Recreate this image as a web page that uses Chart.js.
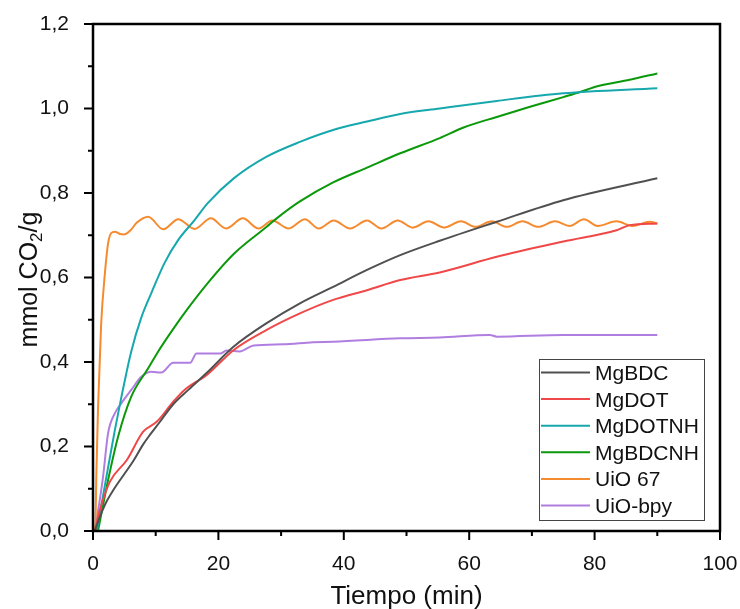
<!DOCTYPE html>
<html>
<head>
<meta charset="utf-8">
<script src="https://cdn.jsdelivr.net/npm/chart.js@4.4.1/dist/chart.umd.min.js"></script>
<style>
  body { margin: 0; background: #fff; }
  canvas { display: block; }
</style>
</head>
<body>
<canvas id="myChart" width="740" height="609"></canvas>
<script>
// Series: time in min, uptake in mmol CO2/g
const mgbdcT = [0.3, 1, 2, 3.25, 5, 6.4, 8, 9.1, 10.5, 12.8, 15.2, 18.2, 22.4, 27.7, 33, 38.3, 43.7, 49, 55.3, 64.4, 75, 90];
const mgbdcV = [0, 0.03, 0.065, 0.097, 0.135, 0.165, 0.205, 0.228, 0.255, 0.3, 0.334, 0.375, 0.436, 0.492, 0.539, 0.578, 0.618, 0.653, 0.687, 0.732, 0.783, 0.835];

const mgdotT = [0.3, 1.1, 2.7, 5.4, 8, 10.2, 12.8, 14.6, 18.2, 22.4, 27.7, 33, 38.3, 43.7, 49, 55.3, 64.4, 75, 83.5, 85.6, 90];
const mgdotV = [0, 0.05, 0.117, 0.168, 0.235, 0.259, 0.306, 0.334, 0.37, 0.428, 0.476, 0.515, 0.547, 0.57, 0.594, 0.612, 0.649, 0.685, 0.712, 0.724, 0.728];

const mgdotnhT = [0.6, 2.4, 3.5, 4.5, 6.1, 7.7, 9.3, 11.4, 13.6, 16.2, 18.3, 22.4, 27.7, 33, 38.3, 43.7, 49, 55.3, 64.4, 75, 90];
const mgdotnhV = [0, 0.15, 0.24, 0.315, 0.425, 0.505, 0.563, 0.634, 0.689, 0.736, 0.776, 0.834, 0.886, 0.921, 0.949, 0.969, 0.987, 1.0, 1.018, 1.036, 1.048];

const mgbdcnhT = [0.8, 2.4, 4, 6.1, 8.8, 10.4, 12.5, 15.2, 18.2, 22.4, 27.7, 29.3, 33, 38.3, 43.7, 49, 55.3, 59.1, 64.4, 69.7, 75, 77.7, 80.3, 85.6, 90];
const mgbdcnhV = [0, 0.12, 0.223, 0.318, 0.385, 0.425, 0.472, 0.528, 0.585, 0.655, 0.72, 0.74, 0.78, 0.825, 0.86, 0.894, 0.93, 0.955, 0.98, 1.004, 1.027, 1.039, 1.052, 1.068, 1.083];

const uio67T = [0, 0.37, 0.53, 0.8, 1.3, 1.9, 2.4, 2.9, 3.5, 4.3, 5, 6, 7, 8.8, 11.2, 13.6, 16.2, 18.8, 21.2, 23.9, 26.4, 28.6, 31.2, 33.8, 36, 38.4, 41, 43.7, 46, 48.6, 51, 53.5, 56, 58.7, 61, 63.6, 66, 68.5, 71, 73.7, 76, 78.3, 80.5, 83.5, 86, 88.8, 90];
const uio67V = [0, 0.01, 0.13, 0.29, 0.49, 0.61, 0.68, 0.705, 0.708, 0.703, 0.702, 0.712, 0.73, 0.744, 0.714, 0.738, 0.715, 0.74, 0.716, 0.74, 0.716, 0.735, 0.716, 0.738, 0.716, 0.735, 0.716, 0.735, 0.716, 0.735, 0.718, 0.733, 0.718, 0.733, 0.72, 0.733, 0.72, 0.733, 0.72, 0.733, 0.722, 0.738, 0.722, 0.733, 0.722, 0.732, 0.728];

const uiobpyT = [0.3, 0.5, 1.6, 2.4, 3.5, 4.5, 6.1, 7.7, 9.3, 10.9, 12.8, 15.5, 16.5, 20.3, 21.3, 23.4, 25.6, 30.3, 35.1, 38.3, 49, 55.3, 63.3, 64.4, 75, 90];
const uiobpyV = [0, 0.018, 0.128, 0.231, 0.279, 0.302, 0.334, 0.365, 0.377, 0.375, 0.398, 0.398, 0.42, 0.42, 0.427, 0.425, 0.439, 0.442, 0.447, 0.448, 0.456, 0.458, 0.464, 0.46, 0.464, 0.464];

const xTicks = [0, 20, 40, 60, 80, 100];
const yTicks = [0, 0.2, 0.4, 0.6, 0.8, 1.0, 1.2];

const FONT = "'Liberation Sans', Arial, sans-serif";

function points(ts, vs) {
  return ts.map((t, i) => ({ x: t, y: vs[i] }));
}

function series(label, ts, vs, color) {
  return {
    label,
    data: points(ts, vs),
    borderColor: color,
    backgroundColor: color,
    borderWidth: 2,
    pointRadius: 0,
    cubicInterpolationMode: 'monotone',
    fill: false
  };
}

const datasets = [
  series('MgBDC', mgbdcT, mgbdcV, '#505050'),
  series('MgDOT', mgdotT, mgdotV, '#f04848'),
  series('MgDOTNH', mgdotnhT, mgdotnhV, '#17a8ae'),
  series('MgBDCNH', mgbdcnhT, mgbdcnhV, '#0b990b'),
  series('UiO 67', uio67T, uio67V, '#f58a2e'),
  series('UiO-bpy', uiobpyT, uiobpyV, '#b07ee0')
];

// frame, minor/major ticks, axis titles and the boxed legend
const decorations = {
  id: 'decorations',
  afterDraw(chart) {
    const { ctx, chartArea: a, scales: { x, y } } = chart;
    ctx.save();
    ctx.strokeStyle = '#000';
    ctx.lineWidth = 2.5;
    ctx.strokeRect(a.left, a.top, a.right - a.left, a.bottom - a.top);

    ctx.lineWidth = 2;
    ctx.beginPath();
    for (let v = 0; v <= 100; v += 10) {
      const px = x.getPixelForValue(v);
      const len = v % 20 === 0 ? 9 : 5;
      ctx.moveTo(px, a.bottom);
      ctx.lineTo(px, a.bottom + len);
    }
    for (let i = 0; i <= 12; i++) {
      const py = y.getPixelForValue(i / 10);
      const len = i % 2 === 0 ? 9 : 5;
      ctx.moveTo(a.left, py);
      ctx.lineTo(a.left - len, py);
    }
    ctx.stroke();

    // x title
    ctx.fillStyle = '#111';
    ctx.font = `26px ${FONT}`;
    ctx.textAlign = 'center';
    ctx.textBaseline = 'alphabetic';
    ctx.fillText('Tiempo (min)', (a.left + a.right) / 2, 604);

    // y title with subscript
    ctx.save();
    ctx.translate(37, (a.top + a.bottom) / 2 + 2);
    ctx.rotate(-Math.PI / 2);
    const big = `25px ${FONT}`, small = `17px ${FONT}`;
    ctx.font = big;
    const w1 = ctx.measureText('mmol CO').width;
    const w3 = ctx.measureText('/g').width;
    ctx.font = small;
    const w2 = ctx.measureText('2').width;
    let cx = -(w1 + w2 + w3) / 2;
    ctx.textAlign = 'left';
    ctx.font = big;
    ctx.fillText('mmol CO', cx, 0);
    cx += w1;
    ctx.font = small;
    ctx.fillText('2', cx, 5);
    cx += w2;
    ctx.font = big;
    ctx.fillText('/g', cx, 0);
    ctx.restore();

    // legend
    const lx = 539, ly = 359, lw = 165, lh = 161;
    ctx.fillStyle = '#fff';
    ctx.fillRect(lx, ly, lw, lh);
    ctx.strokeStyle = '#444';
    ctx.lineWidth = 1;
    ctx.strokeRect(lx + 0.5, ly + 0.5, lw, lh);
    ctx.font = `21px ${FONT}`;
    ctx.textAlign = 'left';
    chart.data.datasets.forEach((ds, i) => {
      const rowY = 372.5 + i * 26.6;
      ctx.strokeStyle = ds.borderColor;
      ctx.lineWidth = 2;
      ctx.beginPath();
      ctx.moveTo(541, rowY);
      ctx.lineTo(590, rowY);
      ctx.stroke();
      ctx.fillStyle = '#111';
      ctx.fillText(ds.label, 595, rowY + 7.5);
    });
    ctx.restore();
  }
};

const ctx = document.getElementById('myChart');

new Chart(ctx, {
  type: 'line',
  data: { datasets },
  options: {
    responsive: false,
    animation: false,
    devicePixelRatio: 1,
    layout: { padding: { top: 24, right: 20, left: 0, bottom: 0 } },
    plugins: {
      legend: { display: false },
      tooltip: { enabled: false }
    },
    scales: {
      x: {
        type: 'linear',
        min: 0,
        max: 100,
        grid: { display: false },
        border: { display: false },
        afterBuildTicks: s => { s.ticks = xTicks.map(v => ({ value: v })); },
        afterFit: s => {
          s.height = 78;
          s.paddingLeft = 0;
          s.paddingRight = 0;
        },
        ticks: {
          padding: 13,
          maxRotation: 0,
          color: '#111',
          font: { family: FONT, size: 21 }
        }
      },
      y: {
        type: 'linear',
        min: 0,
        max: 1.2,
        grid: { display: false },
        border: { display: false },
        afterBuildTicks: s => { s.ticks = yTicks.map(v => ({ value: v })); },
        afterFit: s => {
          s.width = 93;
          s.paddingTop = 0;
          s.paddingBottom = 0;
        },
        ticks: {
          padding: 16,
          color: '#111',
          font: { family: FONT, size: 21 },
          callback: v => v.toFixed(1).replace('.', ',')
        }
      }
    }
  },
  plugins: [decorations]
});
</script>
</body>
</html>
